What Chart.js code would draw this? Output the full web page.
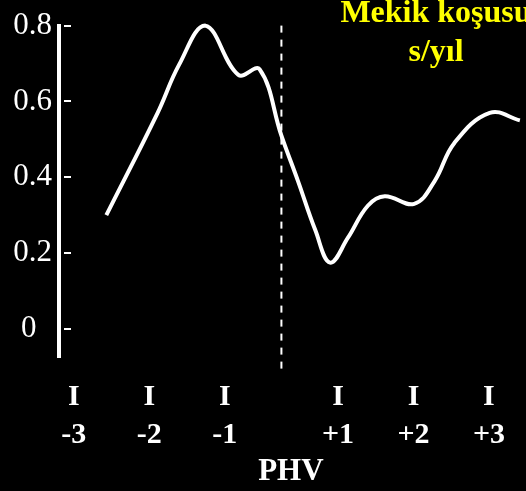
<!DOCTYPE html>
<html>
<head>
<meta charset="utf-8">
<script src="https://cdn.jsdelivr.net/npm/chart.js@4"></script>
<style>
  html, body { margin: 0; padding: 0; background: #000; }
  #wrap { width: 526px; height: 491px; }
</style>
</head>
<body>
<div id="wrap"><canvas id="myChart"></canvas></div>
<script>
// axis positions of the year ticks (gap around PHV is narrower on the slide)
const xTickPos = [-2.75, -1.75, -0.75, 0.75, 1.75, 2.75]
const xTickLabels = ['-3', '-2', '-1', '+1', '+2', '+3']
const yTicks = [0, 0.2, 0.4, 0.6, 0.8]
const phvPos = 0
const titleLines = ['Mekik koşusu', 's/yıl']

// curve
const curveX = [-2.32, -1.64, -1.355, -1.01, -0.57, -0.29, 0, 0.22, 0.45, 0.645, 0.88, 1.145, 1.37, 1.76, 2.03, 2.29, 2.76, 3.16]
const curveY = [0.30, 0.57, 0.697, 0.80, 0.67, 0.685, 0.51, 0.39, 0.26, 0.175, 0.24, 0.325, 0.35, 0.33, 0.39, 0.49, 0.57, 0.55]

const serif = "'Liberation Serif', 'Times New Roman', serif"

// little dashes right of the y axis + yellow title
const extras = {
    id: 'extras',
    afterDraw(chart) {
        const c = chart.ctx
        const yScale = chart.scales.y
        const left = chart.chartArea.left
        c.save()
        c.strokeStyle = '#fff'
        c.lineWidth = 2
        yTicks.forEach(v => {
            const y = Math.round(yScale.getPixelForValue(v))
            c.beginPath()
            c.moveTo(left + 5, y)
            c.lineTo(left + 12, y)
            c.stroke()
        })
        c.fillStyle = '#ffff00'
        c.font = 'bold 32px ' + serif
        c.textAlign = 'center'
        c.textBaseline = 'alphabetic'
        c.fillText(titleLines[0], 436, 22)
        c.fillText(titleLines[1], 436, 61)
        c.restore()
    }
}

const data = {
    datasets: [{
        data: curveX.map((x, i) => ({x, y: curveY[i]})),
        borderColor: '#fff',
        borderWidth: 4,
        pointRadius: 0,
        tension: 0.4,
        fill: false,
        clip: false
    }, {
        data: [{x: phvPos, y: 0.8}, {x: phvPos, y: -0.12}],
        borderColor: '#fff',
        borderWidth: 2,
        borderDash: [7, 7],
        pointRadius: 0,
        fill: false,
        clip: false
    }]
}

const config = {
    type: 'line',
    data: data,
    plugins: [extras],
    options: {
        responsive: true,
        maintainAspectRatio: false,
        animation: false,
        layout: { padding: { top: 22, left: 0, right: 0, bottom: 0 } },
        plugins: {
            legend: { display: false },
            tooltip: { enabled: false }
        },
        scales: {
            x: {
                type: 'linear',
                min: -2.947,
                max: 3.197,
                afterBuildTicks: s => { s.ticks = xTickPos.map(v => ({value: v})) },
                afterFit: s => { s.height = 134 },
                grid: { display: false, drawTicks: false },
                border: { display: false },
                ticks: {
                    color: '#fff',
                    font: { family: serif, size: 30, weight: 'bold', lineHeight: 1.27 },
                    padding: 21,
                    maxRotation: 0,
                    autoSkip: false,
                    callback: (v, i) => ['I', xTickLabels[i]]
                },
                title: {
                    display: true,
                    text: 'PHV',
                    color: '#fff',
                    font: { family: serif, size: 31, weight: 'bold' },
                    padding: { top: 0, bottom: 0 }
                }
            },
            y: {
                min: -0.074,
                max: 0.8,
                afterBuildTicks: s => { s.ticks = yTicks.map(v => ({value: v})) },
                afterFit: s => { s.width = 59 },
                grid: { display: false, drawTicks: false },
                border: { display: true, color: '#fff', width: 4 },
                ticks: {
                    color: '#fff',
                    font: { family: serif, size: 31 },
                    padding: 7,
                    callback: v => v === 0 ? '0  ' : v.toFixed(1)
                }
            }
        }
    }
}

const myChart = new Chart(document.getElementById('myChart').getContext('2d'), config)
</script>
</body>
</html>
